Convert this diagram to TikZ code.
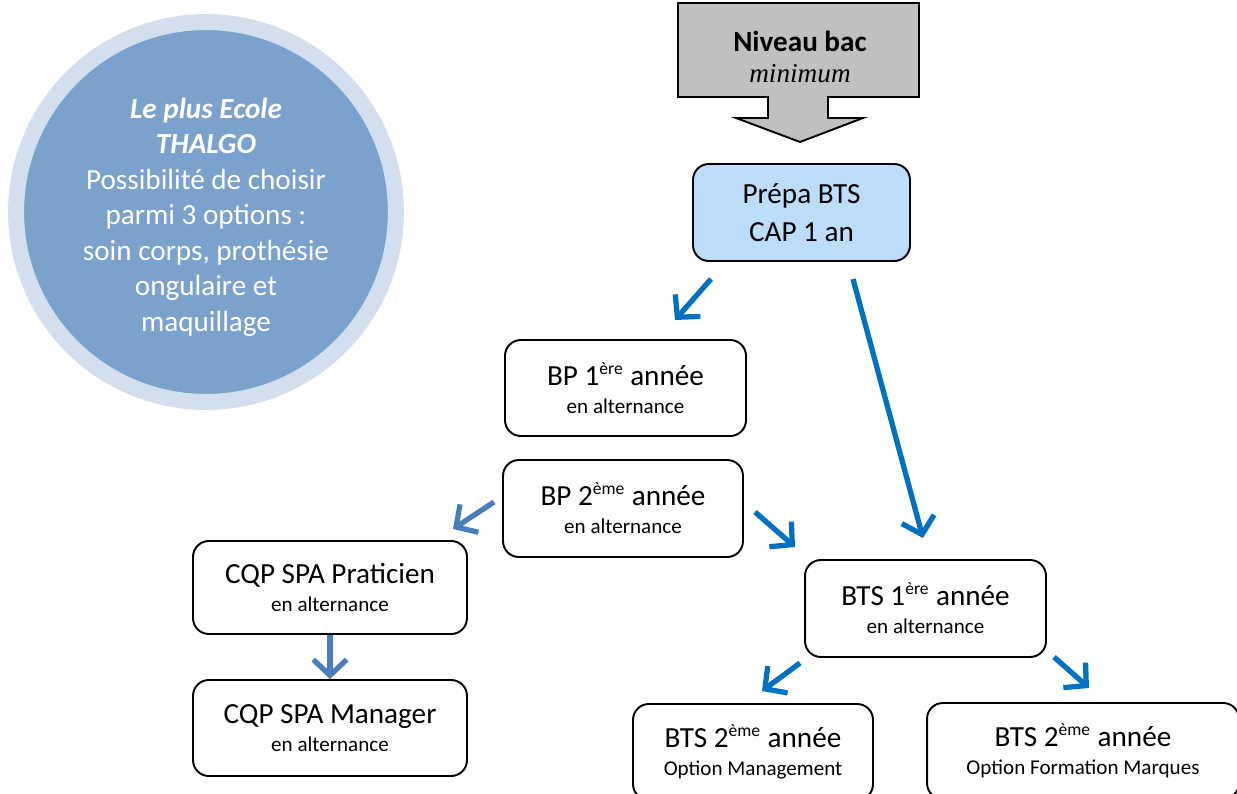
\documentclass[tikz,border=0pt]{standalone}
\usepackage{fontspec}
\setmainfont{Carlito}
\newfontfamily\timesfont{Liberation Serif}
\usepackage{tikz}
\usetikzlibrary{arrows.meta}

\definecolor{bleuFleche}{HTML}{0070C0}
\definecolor{bleuGris}{HTML}{4A7EBB}
\definecolor{bleuCercle}{HTML}{7BA1CD}
\definecolor{bleuPale}{HTML}{D3DFEE}
\definecolor{bleuPrepa}{HTML}{BDDDFD}
\definecolor{grisBac}{HTML}{C0C0C0}

\newcommand{\petit}{\fontsize{12}{14}\selectfont}
\newcommand{\expo}[1]{\textsuperscript{\fontsize{10}{10}\selectfont #1}}

\begin{document}
\begin{tikzpicture}[x=0.02cm, y=-0.02cm,
    boite/.style={draw, line width=1.1pt, rounded corners=9pt, align=center,
      inner sep=0pt, font=\fontsize{16.6}{16}\selectfont},
    fleche/.style={draw=bleuFleche, line width=3pt,
      -{Straight Barb[length=9pt,width=19pt]}},
    flecheGrise/.style={fleche, draw=bleuGris}]

    \clip (0,0) rectangle (1237,794);

    % bulle de gauche
    \node[circle, fill=bleuCercle, draw=bleuPale, line width=0.32cm,
      minimum size=7.6cm, inner sep=0pt] (atout) at (206,212) {};
    \node[align=center, text=white, font=\fontsize{16.6}{20.2}\selectfont]
      (atoutTexte) at (206,217)
      {\textbf{\textit{Le plus Ecole}}\\\textbf{\textit{THALGO}}\\
       Possibilité de choisir\\parmi 3 options :\\soin corps, prothésie\\
       ongulaire et\\maquillage};

    % fleche du haut
    \draw[line width=1.1pt, fill=grisBac] (678,3) -- (919,3) -- (919,97)
      -- (828,97) -- (828,118) -- (863,118) -- (800,142) -- (736,118)
      -- (768,118) -- (768,97) -- (678,97) -- cycle;
    \node[align=center, font=\fontsize{16.6}{18}\selectfont] (bac) at (800,57)
      {\textbf{Niveau bac}\\{\timesfont\itshape\fontsize{15.5}{18}\selectfont minimum}};

    % boites
    \node[boite, fill=bleuPrepa, minimum width=4.34cm, minimum height=1.94cm]
      (prepa) at (801.5,212.5) {Prépa BTS\\[5.5pt]CAP 1 an};

    \node[boite, minimum width=4.82cm, minimum height=1.92cm] (bp1) at (625.5,388)
      {BP 1\expo{ère} année\\\petit en alternance};

    \node[boite, minimum width=4.8cm, minimum height=1.94cm] (bp2) at (623,508.5)
      {BP 2\expo{ème} année\\\petit en alternance};

    \node[boite, minimum width=5.48cm, minimum height=1.86cm] (cqpp) at (330,587.5)
      {CQP SPA Praticien\\\petit en alternance};

    \node[boite, minimum width=5.48cm, minimum height=1.92cm] (cqpm) at (330,728)
      {CQP SPA Manager\\\petit en alternance};

    \node[boite, minimum width=4.82cm, minimum height=1.94cm] (bts1) at (925.5,608.5)
      {BTS 1\expo{ère} année\\\petit en alternance};

    \node[boite, minimum width=4.8cm, minimum height=1.92cm] (bts2m) at (753,752)
      {BTS 2\expo{ème} année\\\petit Option Management};

    \node[boite, minimum width=6.24cm, minimum height=1.92cm] (bts2f) at (1083,751)
      {BTS 2\expo{ème} année\\\petit Option Formation Marques};

    % fleches
    \coordinate (p1) at (711,279);
    \coordinate (p2) at (675,320);
    \coordinate (p3) at (853,279);
    \coordinate (p4) at (923,538);
    \coordinate (p5) at (755,512);
    \coordinate (p6) at (795,547);
    \coordinate (p7) at (494,502);
    \coordinate (p8) at (453,529);
    \coordinate (p9) at (800,663);
    \coordinate (p10) at (762,691);
    \coordinate (p11) at (1054,657);
    \coordinate (p12) at (1089,688);

    \draw[fleche] (p1) -- (p2);
    \draw[fleche] (p3) -- (p4);
    \draw[fleche] (p5) -- (p6);
    \draw[flecheGrise] (p7) -- (p8);
    \draw[flecheGrise] (cqpp.south) -- (cqpm.north);
    \draw[fleche] (p9) -- (p10);
    \draw[fleche] (p11) -- (p12);

  \end{tikzpicture}
\end{document}
